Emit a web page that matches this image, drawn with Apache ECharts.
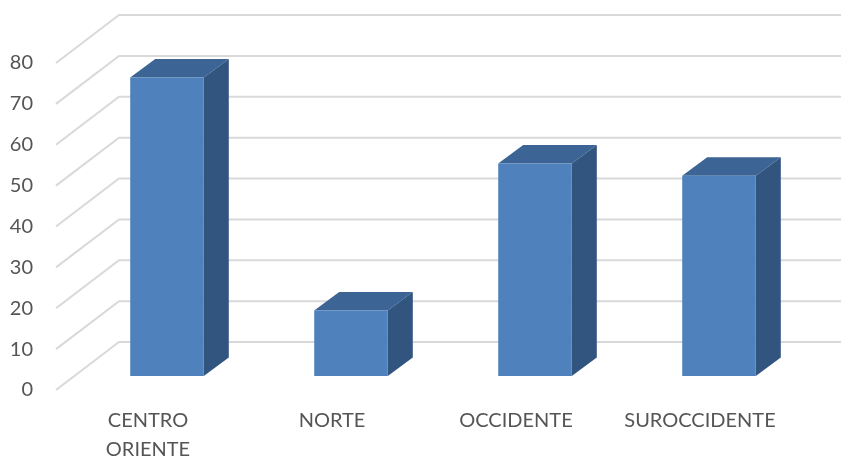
<!DOCTYPE html>
<html><head><meta charset="utf-8">
<style>html,body{margin:0;padding:0;background:#fff}#c{width:841px;height:457px}</style>
<script src="https://cdn.jsdelivr.net/npm/echarts@6/dist/echarts.min.js"></script>
</head><body><div id="c"></div>
<script>
const categories = ['CENTRO ORIENTE', 'NORTE', 'OCCIDENTE', 'SUROCCIDENTE'];
const values = [73, 16, 52, 49];
const ticks = [0, 10, 20, 30, 40, 50, 60, 70, 80];

const WALL_DX = 63, WALL_DY = -48;      // floor depth
const BAR_DX = 19, BAR_DY = -14;        // bar's position on the floor
const DEPTH_DX = 25, DEPTH_DY = -18.5;  // bar's own depth
const FONT = 'Lato';

const chart = echarts.init(document.getElementById('c'), null, {renderer: 'canvas'});
chart.setOption({
  animation: false,
  backgroundColor: '#fff',
  grid: {left: 56, right: 49, top: 63, bottom: 67, containLabel: false, outerBoundsMode: 'none'},
  xAxis: {
    type: 'category', data: categories,
    axisLine: {show: false}, axisTick: {show: false}, splitLine: {show: false},
    axisLabel: {
      interval: 0, margin: 16, color: '#555555', fontFamily: FONT, fontSize: 20, lineHeight: 29,
      hideOverlap: false,
      formatter: s => s.replace(' ', '\n')
    }
  },
  yAxis: {
    type: 'value', min: 0, max: 80, interval: 10,
    axisLine: {show: false}, axisTick: {show: false}, splitLine: {show: false},
    axisLabel: {margin: 23, color: '#555555', fontFamily: FONT, fontSize: 20}
  },
  series: [
    {
      type: 'custom', coordinateSystem: 'cartesian2d', clip: false, silent: true, z: 1,
      data: ticks.map(t => [0, t]),
      encode: {x: 0, y: 1},
      renderItem(params, api) {
        const y = api.coord([0, api.value(1)])[1];
        const x = params.coordSys.x;
        return {
          type: 'polyline',
          shape: {points: [[x, y], [x + WALL_DX, y + WALL_DY], [841, y + WALL_DY]]},
          style: {stroke: '#D9D9D9', lineWidth: 2, fill: null}
        };
      }
    },
    {
      type: 'custom', coordinateSystem: 'cartesian2d', clip: false, silent: true, z: 2,
      data: values.map((v, i) => [i, v]),
      encode: {x: 0, y: 1},
      renderItem(params, api) {
        const i = api.value(0), v = api.value(1);
        const top = api.coord([i, v]), base = api.coord([i, 0]);
        const w = api.size([1, 0])[0] * 0.4;
        const l = top[0] + BAR_DX - w / 2, r = l + w;
        const t = top[1] + BAR_DY, b = base[1] + BAR_DY;
        return {
          type: 'group',
          children: [
            {type: 'polygon', shape: {points: [[l, t], [r, t], [r + DEPTH_DX, t + DEPTH_DY], [l + DEPTH_DX, t + DEPTH_DY]]},
             style: {fill: '#3C6494'}},
            {type: 'polygon', shape: {points: [[r, t], [r + DEPTH_DX, t + DEPTH_DY], [r + DEPTH_DX, b + DEPTH_DY], [r, b]]},
             style: {fill: '#325580'}},
            {type: 'rect', shape: {x: l, y: t, width: w, height: b - t},
             style: {fill: '#4F81BD'}}
          ]
        };
      }
    }
  ]
});
</script></body></html>
